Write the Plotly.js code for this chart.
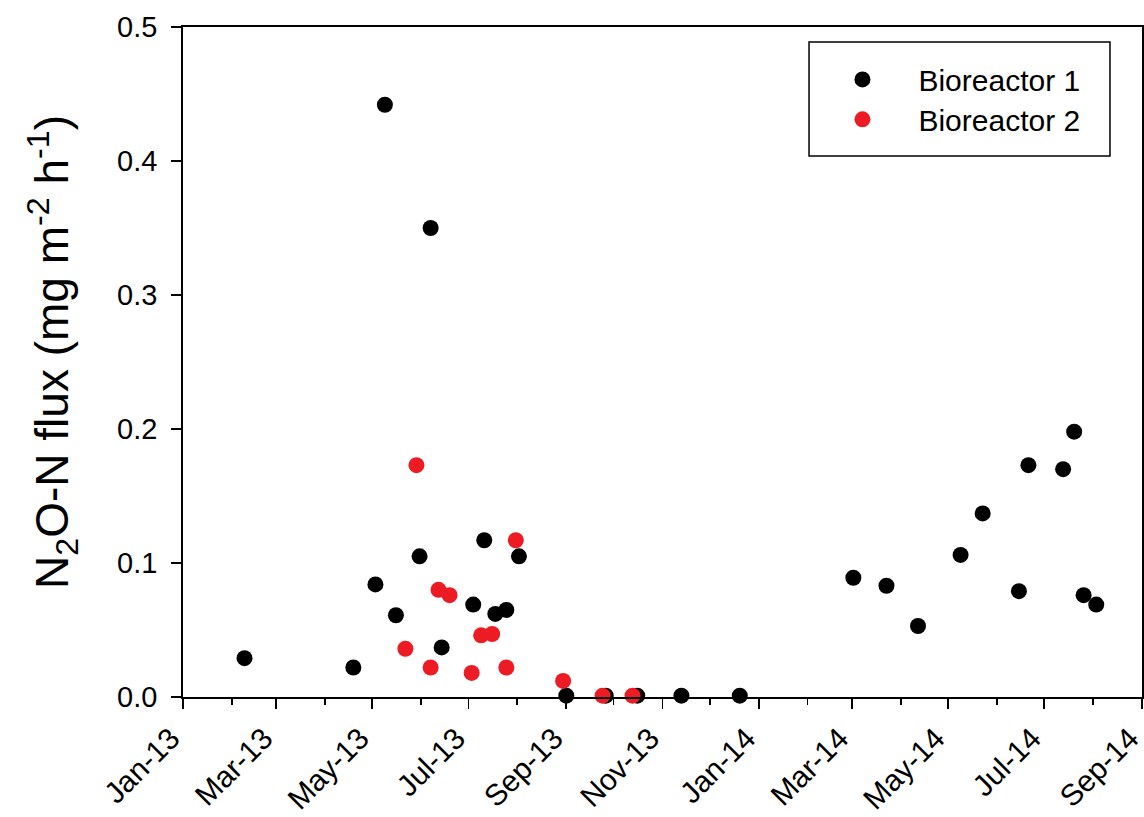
<!DOCTYPE html>
<html>
<head>
<meta charset="utf-8">
<script src="https://cdn.plot.ly/plotly-3.0.1.min.js"></script>
<style>html,body{margin:0;padding:0;background:#fff;}#chart{width:1144px;height:817px;}</style>
</head>
<body>
<div id="chart"></div>
<script>
// Bioreactor 1 sampling dates and N2O-N flux (mg m-2 h-1)
var b1Dates = ['2013-02-09','2013-04-19','2013-05-03','2013-05-09','2013-05-16','2013-05-31','2013-06-07','2013-06-14','2013-07-04','2013-07-11','2013-07-18','2013-07-25','2013-08-02','2013-09-01','2013-09-26','2013-10-16','2013-11-13','2013-12-20','2014-03-02','2014-03-23','2014-04-12','2014-05-09','2014-05-23','2014-06-15','2014-06-21','2014-07-13','2014-07-20','2014-07-26','2014-08-03'];
var b1Flux = [0.029,0.022,0.084,0.442,0.061,0.105,0.350,0.037,0.069,0.117,0.062,0.065,0.105,0.001,0.001,0.001,0.001,0.001,0.089,0.083,0.053,0.106,0.137,0.079,0.173,0.170,0.198,0.076,0.069];

// Bioreactor 2
var b2Dates = ['2013-05-22','2013-05-29','2013-06-07','2013-06-12','2013-06-19','2013-07-03','2013-07-09','2013-07-16','2013-07-25','2013-07-31','2013-08-30','2013-09-24','2013-10-13'];
var b2Flux = [0.036,0.173,0.022,0.080,0.076,0.018,0.046,0.047,0.022,0.117,0.012,0.001,0.001];

// Tick labels
var xTickVals = ['2013-01-01','2013-03-01','2013-05-01','2013-07-01','2013-09-01','2013-11-01','2014-01-01','2014-03-01','2014-05-01','2014-07-01','2014-09-01'];
var xTickText = ['Jan-13','Mar-13','May-13','Jul-13','Sep-13','Nov-13','Jan-14','Mar-14','May-14','Jul-14','Sep-14'];
var yTickVals = [0, 0.1, 0.2, 0.3, 0.4, 0.5];
var yTickText = ['0.0','0.1','0.2','0.3','0.4','0.5'];
var seriesNames = ['Bioreactor 1', 'Bioreactor 2'];
var yTitle = 'N<sub>2</sub>O-N flux (mg m<sup>-2</sup> h<sup>-1</sup>)';

var FONT = 'Arial, "Liberation Sans", sans-serif';

var traces = [
  {x: b1Dates, y: b1Flux, name: seriesNames[0], type: 'scatter', mode: 'markers', legend: 'legend',
   cliponaxis: false, marker: {color: '#000000', size: 16}},
  {x: b2Dates, y: b2Flux, name: seriesNames[1], type: 'scatter', mode: 'markers', legend: 'legend2',
   cliponaxis: false, marker: {color: '#ed1c24', size: 16}}
];

var legendStyle = function (y) {
  return {
    x: 0.6501, y: y, xanchor: 'left', yanchor: 'top',
    bgcolor: 'rgba(0,0,0,0)', borderwidth: 0,
    font: {family: FONT, size: 30, color: '#000'},
    itemwidth: 102
  };
};

var layout = {
  width: 1144, height: 817,
  margin: {l: 183, r: 2, t: 27, b: 120},
  paper_bgcolor: '#ffffff', plot_bgcolor: '#ffffff',
  font: {family: FONT, color: '#000', size: 29},
  showlegend: true,
  legend: legendStyle(0.9605),
  legend2: legendStyle(0.9010),
  xaxis: {
    type: 'date',
    range: ['2013-01-01', '2014-09-01 00:20'],
    tickmode: 'array', tickvals: xTickVals, ticktext: xTickText,
    tickangle: -45,
    ticks: 'outside', ticklen: 10, tickwidth: 1.8, tickcolor: '#000',
    minor: {dtick: 'M1', tick0: '2013-01-01', ticks: 'outside', ticklen: 6, tickwidth: 1.8, tickcolor: '#000', showgrid: false},
    showline: true, linecolor: '#000', linewidth: 1.8, mirror: true,
    showgrid: false, zeroline: false,
    tickfont: {family: FONT, size: 30, color: '#000'},
    ticklabelstandoff: 0,
    ticklabelshift: -12,
    ticklabeloverflow: 'allow',
    automargin: false
  },
  yaxis: {
    range: [0, 0.5],
    tickmode: 'array', tickvals: yTickVals, ticktext: yTickText,
    ticks: 'outside', ticklen: 10, tickwidth: 1.8, tickcolor: '#000',
    showline: true, linecolor: '#000', linewidth: 1.8, mirror: true,
    showgrid: false, zeroline: false,
    tickfont: {family: FONT, size: 29, color: '#000'},
    ticklabelstandoff: 8,
    automargin: false
  },
  annotations: [
    {text: yTitle, xref: 'paper', yref: 'paper', x: -0.1356, y: 0.515,
     xanchor: 'center', yanchor: 'middle', textangle: -90, showarrow: false,
     font: {family: FONT, size: 46, color: '#000'}}
  ],
  shapes: [
    {type: 'rect', xref: 'paper', yref: 'paper', x0: 0.6528, x1: 0.9666, y0: 0.8075, y1: 0.9776,
     line: {color: '#000', width: 1.5}, fillcolor: 'rgba(0,0,0,0)'}
  ]
};

Plotly.newPlot('chart', traces, layout, {displayModeBar: false, staticPlot: true});
</script>
</body>
</html>
